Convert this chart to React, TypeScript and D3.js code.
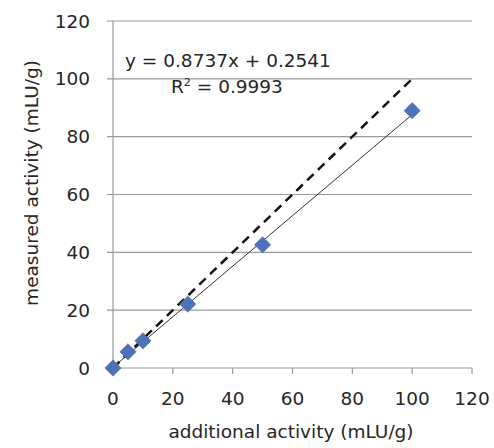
import React from "react";
import * as d3 from "d3";

const xValues = [0, 5, 10, 25, 50, 100];
const yValues = [0, 5.6, 9.4, 22.1, 42.6, 89.0];
const xTicks = [0, 20, 40, 60, 80, 100, 120];
const yTicks = [0, 20, 40, 60, 80, 100, 120];
const slope = 0.8737;
const intercept = 0.2541;
const equationText = "y = 0.8737x + 0.2541";
const r2Value = "0.9993";
const xTitle = "additional activity (mLU/g)";
const yTitle = "measured activity  (mLU/g)";

export default function App() {
  const W = 494, H = 448;
  const x = d3.scaleLinear().domain([0, 120]).range([113, 472]);
  const y = d3.scaleLinear().domain([0, 120]).range([368, 21]);
  const font = "'DejaVu Sans', sans-serif";
  const fs = 18.5;
  const pts = xValues.map((v, i) => [v, yValues[i]]);
  const line = d3.line<number[]>().x(d => x(d[0])).y(d => y(d[1]));
  const diamond = d3.symbol().type(d3.symbolDiamond2).size(170)();
  const txt = "#262626";
  return (
    <svg width={W} height={H} style={{ position: "absolute", left: 0, top: 0, background: "#fff" }}>
      {yTicks.map(t => (
        <line key={"g" + t} x1={107} x2={472} y1={y(t)} y2={y(t)} stroke="#9a9a9a" strokeWidth={1.2} />
      ))}
      <line x1={x(0)} x2={x(0)} y1={y(0)} y2={y(120)} stroke="#9a9a9a" strokeWidth={1.2} />
      {xTicks.map(t => (
        <line key={"xt" + t} x1={x(t)} x2={x(t)} y1={y(0)} y2={y(0) + 6} stroke="#9a9a9a" strokeWidth={1.2} />
      ))}
      {yTicks.map(t => (
        <text key={"yl" + t} x={90} y={y(t)} dy="0.36em" textAnchor="end" fontFamily={font} fontSize={fs} fill={txt}>{t}</text>
      ))}
      {xTicks.map(t => (
        <text key={"xl" + t} x={x(t)} y={y(0) + 37} textAnchor="middle" fontFamily={font} fontSize={fs} fill={txt}>{t}</text>
      ))}
      <path d={line([[0, 0], [100, 100]]) || ""} stroke="#111" strokeWidth={2.5} strokeDasharray="9,6" fill="none" />
      <path d={line([[0, intercept], [100, slope * 100 + intercept]]) || ""} stroke="#333" strokeWidth={1} fill="none" />
      {pts.map((p, i) => (
        <path key={"p" + i} d={diamond} transform={`translate(${x(p[0])},${y(p[1])})`} fill="#4d72b8" stroke="#4168ad" strokeWidth={0.5} />
      ))}
      <text x={125} y={67} fontFamily={font} fontSize={fs} fill={txt}>{equationText}</text>
      <text x={171} y={93} fontFamily={font} fontSize={fs} fill={txt}>R<tspan dy={-7} fontSize={11}>2</tspan><tspan dy={7}> = {r2Value}</tspan></text>
      <text x={291} y={438} textAnchor="middle" fontFamily={font} fontSize={fs} fill={txt}>{xTitle}</text>
      <text transform={`translate(38,183) rotate(-90)`} textAnchor="middle" fontFamily={font} fontSize={fs} fill={txt}>{yTitle}</text>
    </svg>
  );
}
